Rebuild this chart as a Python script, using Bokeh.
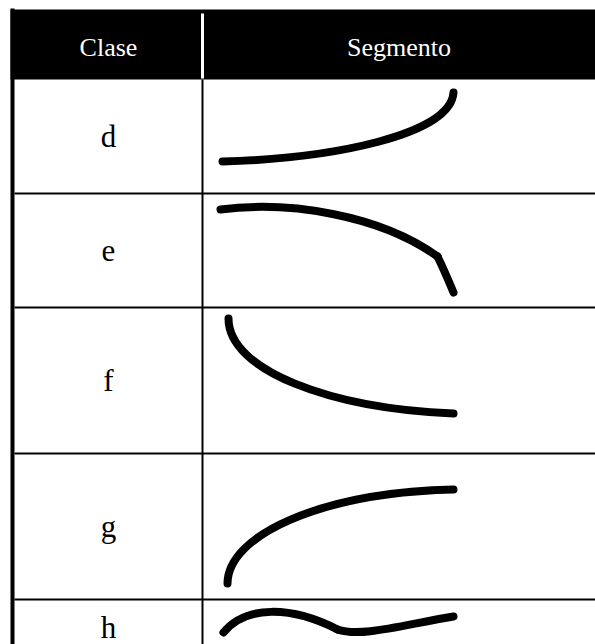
from bokeh.plotting import figure
from bokeh.models import Range1d
from bokeh.core.properties import value
from bokeh.embed import file_html
from bokeh.resources import INLINE

# ---- data ----
headers = ["Clase", "Segmento"]
classes = ["d", "e", "f", "g", "h"]

# hand-drawn segment shapes as cubic Bézier pieces
seg_class = ["d", "e", "e", "f", "g", "h", "h"]
seg_x0 = [222, 220, 437, 228, 227, 223, 337]
seg_y0 = [161, 209, 256, 318, 583, 632, 629]
seg_cx0 = [330, 290, 443, 228, 227, 245, 360]
seg_cy0 = [158, 200, 268, 370, 535, 605, 637]
seg_cx1 = [450, 380, 448, 330, 320, 290, 400]
seg_cy1 = [135, 215, 280, 408, 492, 605, 625]
seg_x1 = [453, 437, 453, 453, 453, 337, 453]
seg_y1 = [92, 256, 292, 413, 489, 629, 616]

# ---- layout ----
W, H = 595, 644
col_div, right = 202, 595
head_top, head_bot = 9, 79
row_edges = [79, 193, 307, 453, 599, 657]

p = figure(width=W, height=H, output_backend="svg", toolbar_location=None,
           x_range=Range1d(0, W), y_range=Range1d(H, 0),
           min_border=0, outline_line_color=None, background_fill_color="white",
           border_fill_color="white")
p.axis.visible = False
p.grid.visible = False

# header background
p.quad(left=[10], right=[right], top=[head_top], bottom=[head_bot],
       fill_color="black", line_color=None)
# left thick border
p.quad(left=[10], right=[14], top=[8], bottom=[H], fill_color="black", line_color=None)
# white separator in header
p.quad(left=[200.5], right=[203.5], top=[13], bottom=[78], fill_color="white", line_color=None)
# column divider
p.segment(x0=[col_div], y0=[head_bot], x1=[col_div], y1=[H],
          line_color="black", line_width=2)
# row lines
ys = row_edges[1:-1]
p.segment(x0=[14] * len(ys), y0=ys, x1=[right] * len(ys), y1=ys,
          line_color="black", line_width=2)

font = value("Liberation Serif")
# header texts
p.text(x=[(14 + col_div) / 2, (col_div + right) / 2], y=[46.5, 46.5], text=headers,
       text_color="white", text_font=font, text_font_size="26px",
       text_align="center", text_baseline="middle")

# class letters
centers = [(row_edges[i] + row_edges[i + 1]) / 2 for i in range(len(classes))]
centers[-1] = 627
p.text(x=[(14 + col_div) / 2] * len(classes), y=centers, text=classes,
       text_color="black", text_font=font, text_font_size="31px",
       text_align="center", text_baseline="middle")

# segments
p.bezier(x0=seg_x0, y0=seg_y0, x1=seg_x1, y1=seg_y1,
         cx0=seg_cx0, cy0=seg_cy0, cx1=seg_cx1, cy1=seg_cy1,
         line_color="black", line_width=8, line_cap="round")

open("out.html", "w").write(file_html(p, INLINE))
